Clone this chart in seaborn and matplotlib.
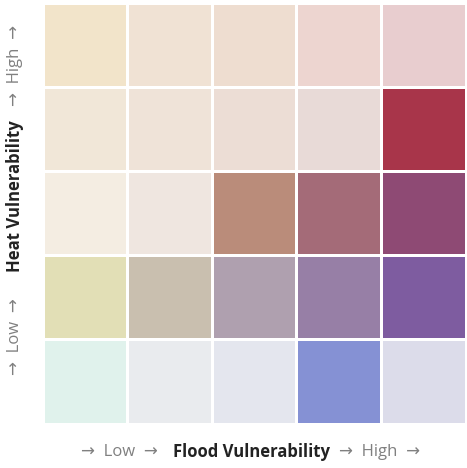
import numpy as np
import matplotlib
matplotlib.use("Agg")
import matplotlib.pyplot as plt
from matplotlib.colors import ListedColormap
import seaborn as sns

# cell colours, rows from High heat (top) to Low heat (bottom),
# columns from Low flood to High flood
row_high = ['#F2E4CA', '#F0E2D4', '#EEDDD0', '#EDD5D0', '#E8CDCF']
row_4 = ['#F1E7D8', '#EFE3D8', '#ECDDD5', '#E8DAD7', '#A8354A']
row_3 = ['#F4EDE2', '#EFE6E0', '#BA8C7A', '#A46B78', '#8E4A74']
row_2 = ['#E2DFB6', '#C9BFAF', '#AFA0AF', '#977FA6', '#7E5CA0']
row_low = ['#E0F2EC', '#E9EBEE', '#E4E6EE', '#8591D4', '#DCDCEA']

rows = [row_high, row_4, row_3, row_2, row_low]
colors = [c for r in rows for c in r]
idx = np.arange(len(colors)).reshape(5, 5)

plt.rcParams['font.family'] = ['Open Sans', 'DejaVu Sans']

W, H = 467, 468
fig = plt.figure(figsize=(W / 100, H / 100), dpi=100)
ax = fig.add_axes([42.5 / W, 44.5 / H, 423 / W, 421 / H])
sns.heatmap(idx, cmap=ListedColormap(colors), vmin=-0.5, vmax=len(colors) - 0.5,
            cbar=False, linewidths=2.0, linecolor='white', ax=ax,
            xticklabels=False, yticklabels=False)
ax.set_xlabel('')
ax.set_ylabel('')

grey = '#808080'
dark = '#222222'
fs = 12

# axis title pieces (pixel centres measured on the reference)
low_txt = '\u2192  Low  \u2192'
high_txt = '\u2192  High  \u2192'

xy = 452
fig.text(119 / W, 1 - xy / H, low_txt, color=grey, fontsize=fs, ha='center', va='center')
fig.text(251.5 / W, 1 - xy / H, 'Flood Vulnerability', color=dark, fontsize=fs,
         fontweight='bold', ha='center', va='center')
fig.text(379.5 / W, 1 - xy / H, high_txt, color=grey, fontsize=fs, ha='center', va='center')

yx = 15
fig.text(yx / W, 1 - 337 / H, low_txt, color=grey, fontsize=fs, rotation=90,
         ha='center', va='center')
fig.text(yx / W, 1 - 196.5 / H, 'Heat Vulnerability', color=dark, fontsize=fs,
         fontweight='bold', rotation=90, ha='center', va='center')
fig.text(yx / W, 1 - 66 / H, high_txt, color=grey, fontsize=fs, rotation=90,
         ha='center', va='center')

fig.savefig('out.png', dpi=100)
